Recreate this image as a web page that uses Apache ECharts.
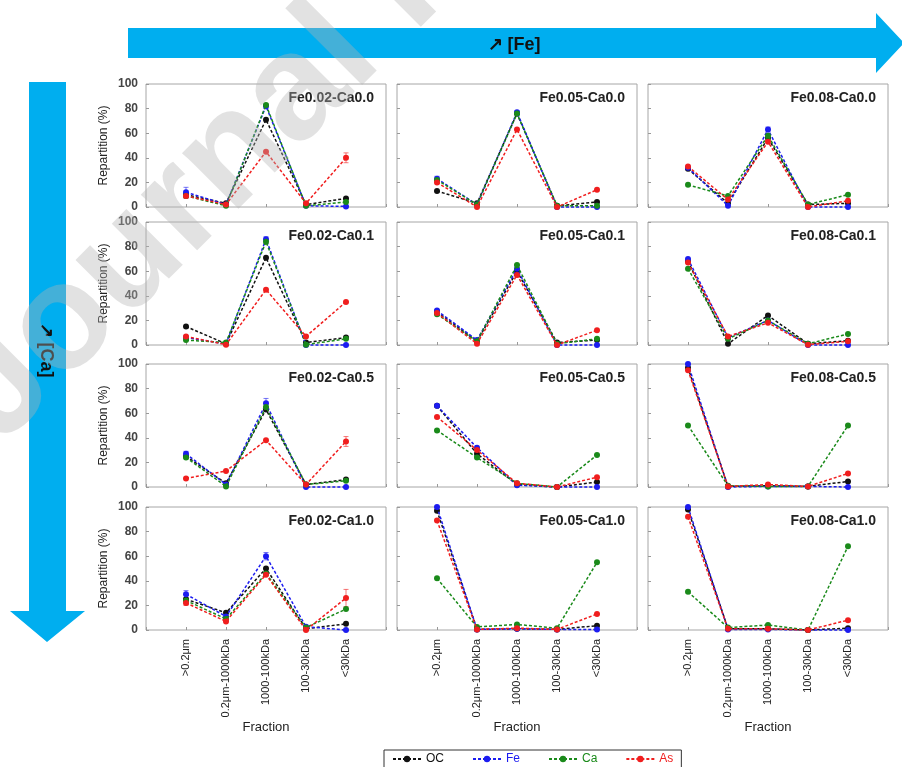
<!DOCTYPE html>
<html>
<head>
<meta charset="utf-8">
<script src="https://cdn.jsdelivr.net/npm/echarts@6/dist/echarts.min.js"></script>
<style>
  html, body { margin: 0; padding: 0; background: #fff; }
  #chart { width: 902px; height: 767px; }
</style>
</head>
<body>
<div id="chart"></div>
<script>
// Size fractions on the x axis
const fractions = ['>0.2μm', '0.2μm-1000kDa', '1000-100kDa', '100-30kDa', '<30kDa'];

// Panel titles, row by row ([Ca] increases downwards, [Fe] to the right)
const panelTitles = [
  'Fe0.02-Ca0.0', 'Fe0.05-Ca0.0', 'Fe0.08-Ca0.0',
  'Fe0.02-Ca0.1', 'Fe0.05-Ca0.1', 'Fe0.08-Ca0.1',
  'Fe0.02-Ca0.5', 'Fe0.05-Ca0.5', 'Fe0.08-Ca0.5',
  'Fe0.02-Ca1.0', 'Fe0.05-Ca1.0', 'Fe0.08-Ca1.0'
];

// Repartition (%) per fraction, one row per panel
const repOC = [
  [10, 3, 71, 2, 7],   [13, 3, 76, 1, 4],    [31, 3, 56, 2, 3],
  [15, 1, 71, 2, 6],   [27, 3, 60, 2, 4],    [68, 1, 24, 1, 3.5],
  [25, 3, 63, 2, 6],   [66, 27, 2, 0, 4],    [97, 0.5, 1, 0.5, 4.5],
  [25, 14, 50, 1, 5],  [97, 0.5, 1, 0.5, 3.5], [98, 1, 1, 0, 1.5]
];
const repFe = [
  [12, 2, 82, 1, 0.5], [23, 2, 77, 0, 0],    [32, 1, 63, 0, 0],
  [6, 1, 86, 0, 0],    [28, 4, 62, 0, 0],    [70, 6, 20, 0, 0],
  [27, 2, 68, 0, 0],   [66, 32, 1.5, 0, 0],  [100, 0, 0.5, 0.5, 0],
  [29, 11, 60, 2.7, 0], [100, 0.5, 1, 0.5, 0.5], [100, 0.5, 0.5, 0, 0]
];
const repCa = [
  [9, 1, 83, 1, 4],    [22, 2, 76, 1, 1],    [18, 9, 58, 2, 10],
  [4, 2, 84, 0.3, 5],  [25, 3, 65, 1, 5],    [62, 5, 20, 1, 9],
  [24, 0.5, 65, 2, 5], [46, 24, 3, 0, 26],   [50, 1, 0.5, 0.5, 50],
  [24, 9, 46, 2, 17],  [42, 2.5, 4.5, 1.5, 55], [31, 2, 4, 0, 68]
];
const repAs = [
  [9, 2, 45, 3, 40],   [20, 0, 63, 0, 14],   [33, 6, 53, 0, 5],
  [7, 0.3, 45, 7, 35], [26, 1, 57, 0, 12],   [67, 7, 18, 0.3, 3],
  [7, 13, 38, 2, 37],  [57, 30, 3, 0, 8],    [95, 0.5, 2, 0.5, 11],
  [22, 7, 45, 0, 26],  [89, 0.5, 1.5, 0.5, 13], [92, 1, 1, 0, 8]
];

// Standard deviations (%) for the points with visible error bars
const sdFe = [
  [4, 0, 2, 0, 0], [2, 0, 1, 0, 0], [0, 0, 2, 0, 0],
  [0, 0, 2, 0, 0], [0, 0, 0, 0, 0], [0, 0, 0, 0, 0],
  [2, 0, 4, 0, 0], [0, 0, 0, 0, 0], [0, 0, 0, 0, 0],
  [3, 0, 3, 0, 0], [0, 0, 0, 0, 0], [0, 0, 0, 0, 0]
];
const sdAs = [
  [2, 0, 0, 0, 4], [0, 0, 0, 0, 0], [0, 0, 0, 0, 0],
  [0, 0, 0, 0, 0], [0, 0, 0, 0, 0], [0, 0, 0, 0, 0],
  [0, 0, 0, 0, 4], [0, 0, 0, 0, 0], [0, 0, 0, 0, 0],
  [2, 0, 0, 0, 7], [0, 0, 0, 0, 0], [0, 0, 0, 0, 0]
];

const seriesNames = ['OC', 'Fe', 'Ca', 'As'];
const seriesColors = ['#111111', '#1c1cf0', '#1a8a1a', '#f01e1e'];
const seriesValues = [repOC, repFe, repCa, repAs];
const seriesErrors = [null, sdFe, null, sdAs];

// Panel geometry
const colLeft = [146, 397, 648];
const rowTop = [84, 222, 364, 507];
const panelW = 240;
const panelH = 123;
const FONT = '"Liberation Sans", Arial, sans-serif';

// Vertical error bar with short caps
function renderErrorBar(params, api) {
  const x = api.value(0);
  const lo = api.coord([x, api.value(1)]);
  const hi = api.coord([x, api.value(2)]);
  const style = { stroke: api.visual('color'), lineWidth: 1, opacity: 0.6 };
  return {
    type: 'group',
    children: [
      { type: 'line', shape: { x1: lo[0], y1: lo[1], x2: hi[0], y2: hi[1] }, style: style },
      { type: 'line', shape: { x1: lo[0] - 2.5, y1: lo[1], x2: lo[0] + 2.5, y2: lo[1] }, style: style },
      { type: 'line', shape: { x1: hi[0] - 2.5, y1: hi[1], x2: hi[0] + 2.5, y2: hi[1] }, style: style }
    ]
  };
}

const grids = [], xAxes = [], yAxes = [], titles = [], series = [];

panelTitles.forEach((t, p) => {
  const r = Math.floor(p / 3), c = p % 3;
  const isLeft = c === 0, isBottom = r === 3;
  grids.push({
    left: colLeft[c], top: rowTop[r], width: panelW, height: panelH,
    show: true, borderColor: '#a6a6a6', borderWidth: 1, backgroundColor: 'transparent'
  });
  xAxes.push({
    gridIndex: p, type: 'value', min: 0, max: 6, interval: 1,
    axisLine: { show: false },
    axisTick: { show: true, inside: true, length: 3, lineStyle: { color: '#999' } },
    splitLine: { show: false },
    axisLabel: {
      show: isBottom, rotate: 90, margin: 9, fontSize: 11, color: '#222', fontFamily: FONT,
      formatter: v => fractions[v - 1] || ''
    },
    name: isBottom ? 'Fraction' : '',
    nameLocation: 'middle', nameGap: 80,
    nameTextStyle: { fontSize: 13, color: '#222', fontFamily: FONT }
  });
  yAxes.push({
    gridIndex: p, type: 'value', min: 0, max: 100, interval: 20,
    axisLine: { show: false },
    axisTick: { show: true, inside: true, length: 3, lineStyle: { color: '#999' } },
    splitLine: { show: false },
    axisLabel: { show: isLeft, margin: 8, fontSize: 12, fontWeight: 'bold', color: '#444', fontFamily: FONT },
    name: isLeft ? 'Repartition (%)' : '',
    nameLocation: 'middle', nameGap: 36,
    nameTextStyle: { fontSize: 12, color: '#222', fontFamily: FONT }
  });
  titles.push({
    text: t,
    right: 902 - (colLeft[c] + panelW) + 12,
    top: rowTop[r] + 7,
    padding: 0,
    textStyle: { fontSize: 14, fontWeight: 'bold', color: '#222', fontFamily: FONT }
  });
  seriesNames.forEach((name, k) => {
    const vals = seriesValues[k][p];
    const errs = seriesErrors[k] ? seriesErrors[k][p] : null;
    series.push({
      name: name, type: 'line', xAxisIndex: p, yAxisIndex: p,
      data: vals.map((v, i) => [i + 1, v]),
      clip: false,
      symbol: 'circle', symbolSize: 6,
      itemStyle: { color: seriesColors[k] },
      lineStyle: { color: seriesColors[k], width: 1.5, type: [3, 2] },
      z: 2 + k
    });
    if (errs) {
      const bars = [];
      errs.forEach((e, i) => { if (e > 0) bars.push([i + 1, vals[i] - e, vals[i] + e]); });
      series.push({
        name: name + ' SD', type: 'custom', xAxisIndex: p, yAxisIndex: p,
        renderItem: renderErrorBar, data: bars, clip: false,
        itemStyle: { color: seriesColors[k] }, z: 1
      });
    }
  });
});

const arrowBlue = '#00aeef';

const option = {
  animation: false,
  textStyle: { fontFamily: FONT },
  grid: grids,
  xAxis: xAxes,
  yAxis: yAxes,
  title: titles,
  legend: {
    left: 384, top: 750,
    padding: [3, 8],
    itemGap: 28, itemWidth: 28, itemHeight: 8,
    borderColor: '#333', borderWidth: 1,
    data: seriesNames.map((n, k) => ({ name: n, textStyle: { color: seriesColors[k], fontSize: 12, fontFamily: FONT } }))
  },
  graphic: [
    // [Fe] arrow across the top
    {
      type: 'polygon', silent: true,
      shape: { points: [[128, 28], [876, 28], [876, 13], [904, 43], [876, 73], [876, 58], [128, 58]] },
      style: { fill: arrowBlue }
    },
    {
      type: 'text', silent: true, x: 514, y: 45,
      style: { text: '↗ [Fe]', fill: '#111', font: 'bold 18px ' + FONT, textAlign: 'center', textVerticalAlign: 'middle' }
    },
    // [Ca] arrow down the left side
    {
      type: 'polygon', silent: true,
      shape: { points: [[29, 82], [66, 82], [66, 611], [85, 611], [47, 642], [10, 611], [29, 611]] },
      style: { fill: arrowBlue }
    },
    {
      type: 'text', silent: true, x: 46, y: 350, rotation: -Math.PI / 2,
      style: { text: '↗ [Ca]', fill: '#111', font: 'bold 18px ' + FONT, textAlign: 'center', textVerticalAlign: 'middle' }
    },
    // Diagonal watermark
    {
      type: 'text', silent: true, x: 25, y: 470, rotation: Math.PI * 0.25, z: 100,
      style: { text: 'Journal Pre-proof', fill: 'rgba(180,180,180,0.38)', font: 'bold 150px ' + FONT, textVerticalAlign: 'bottom' }
    }
  ],
  series: series
};

const chart = echarts.init(document.getElementById('chart'), null, { renderer: 'canvas' });
chart.setOption(option);
</script>
</body>
</html>
